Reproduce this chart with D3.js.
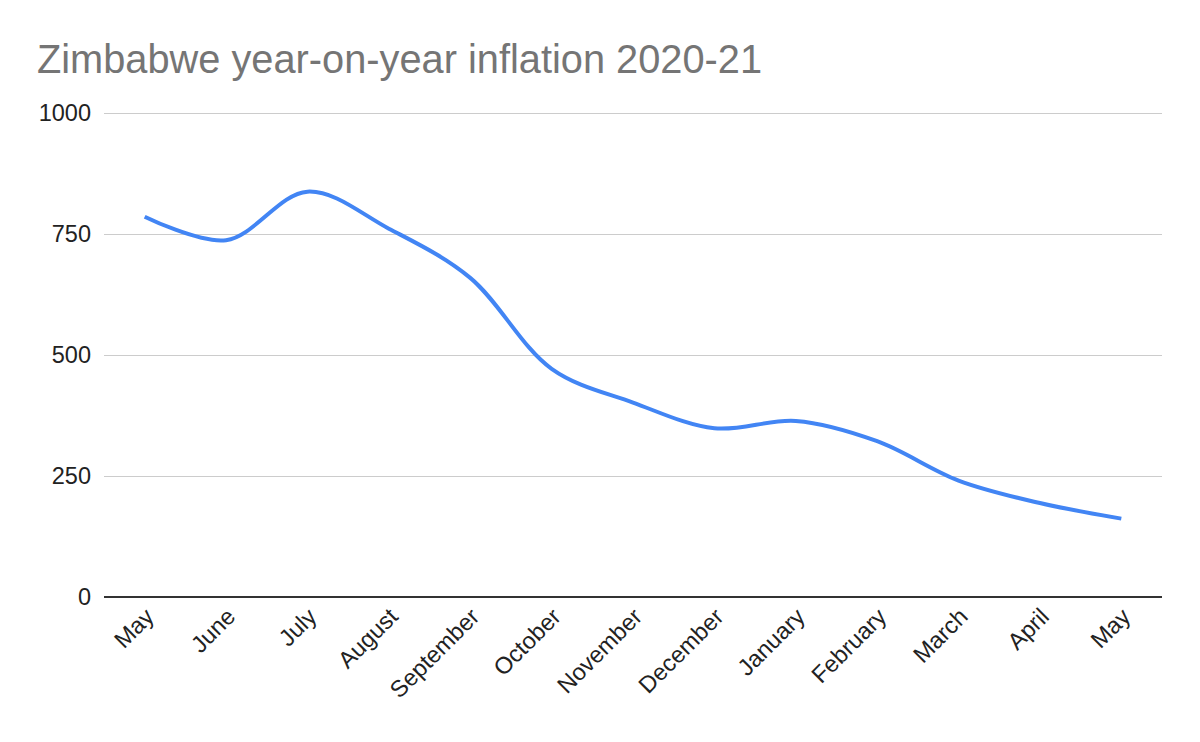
<!DOCTYPE html>
<html><head><meta charset="utf-8">
<script src="https://cdn.jsdelivr.net/npm/d3@7"></script>
<style>body{margin:0;background:#fff}svg{display:block}</style>
</head><body><svg id="c" width="1200" height="742"></svg>
<script>
const months = ["May","June","July","August","September","October","November","December","January","February","March","April","May"];
const inflation = [785.6, 737.3, 837.5, 761.0, 659.4, 471.5, 401.7, 348.6, 363.7, 321.9, 240.6, 194.1, 161.9];
const yTicks = [0, 250, 500, 750, 1000];
const title = "Zimbabwe year-on-year inflation 2020-21";

const svg = d3.select("#c");
const m = {left:104, right:1162, top:113, bottom:597};
const x = d3.scalePoint().domain(d3.range(months.length)).range([m.left, m.right]).padding(0.5);
const y = d3.scaleLinear().domain([0,1000]).range([m.bottom, m.top]);
const FONT = "Liberation Sans, Arial, sans-serif";

svg.append("rect").attr("width",1200).attr("height",742).attr("fill","#fff");
svg.append("text").attr("x",37).attr("y",73).attr("font-family",FONT)
  .attr("font-size",40).attr("fill","#757575").attr("textLength",725).attr("lengthAdjust","spacingAndGlyphs").text(title);

const yAxis = svg.append("g").attr("transform",`translate(${m.left},0)`)
  .call(d3.axisLeft(y).tickValues(yTicks).tickFormat(d3.format("d")).tickSize(-(m.right-m.left)).tickPadding(13));
yAxis.select(".domain").remove();
yAxis.selectAll("line").attr("stroke","#cccccc").attr("stroke-width",1.2);
yAxis.selectAll("text").attr("font-family",FONT).attr("font-size",23.5).attr("fill","#222");

svg.append("line").attr("x1",m.left).attr("x2",m.right).attr("y1",y(0)).attr("y2",y(0))
  .attr("stroke","#333").attr("stroke-width",2);

const xAxis = svg.append("g").attr("transform",`translate(0,${m.bottom})`)
  .call(d3.axisBottom(x).tickSize(0).tickFormat(i=>months[i]));
xAxis.select(".domain").remove();
xAxis.selectAll("text").attr("font-family",FONT).attr("font-size",23.5).attr("fill","#222")
  .attr("text-anchor","end").attr("dy",0)
  .attr("transform","translate(8,19) rotate(-45)");

const line = d3.line().x((d,i)=>x(i)).y(d=>y(d)).curve(d3.curveCatmullRom.alpha(0.5));
svg.append("path").datum(inflation).attr("d",line).attr("fill","none")
  .attr("stroke","#4285f4").attr("stroke-width",4).attr("stroke-linejoin","round");
</script></body></html>
